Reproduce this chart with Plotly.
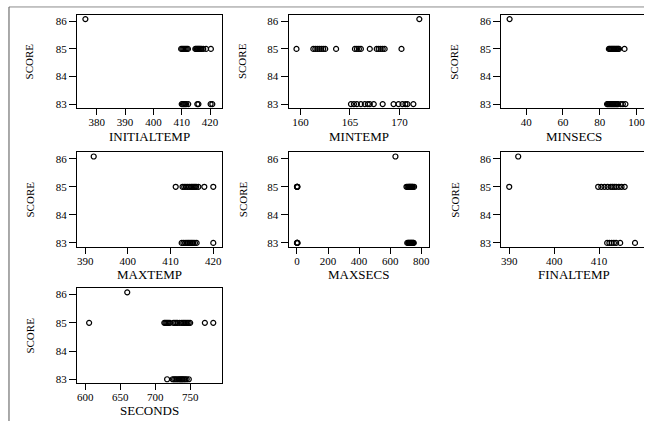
import plotly.graph_objects as go

W, H = 645, 423

# ---- data ----
score_levels = [83, 85, 86.08]

initialtemp_86 = [376]
initialtemp_85 = [409.8, 410.2, 410.6, 411.0, 411.4, 411.8, 412.2, 414.8, 415.1, 415.4, 415.7, 416.0,
                  416.3, 416.6, 417.0, 417.6, 418.6, 420.3]
initialtemp_83 = [410.0, 410.4, 410.8, 411.2, 411.6, 412.3, 415.5, 415.9, 420.2, 420.8]

mintemp_86 = [172.0]
mintemp_85 = [159.6, 161.3, 161.5, 161.7, 161.9, 162.1, 162.3, 162.5, 163.6, 165.5, 165.7, 165.9,
              166.1, 167.0, 167.7, 167.9, 168.1, 168.3, 168.5, 170.2]
mintemp_83 = [165.1, 165.4, 165.7, 166.1, 166.5, 166.8, 167.0, 167.4, 168.3, 169.4, 169.9, 170.3,
              170.6, 170.8, 171.4]

minsecs_86 = [31]
minsecs_85 = [85.0, 85.5, 86.0, 86.5, 87.0, 87.5, 88.0, 88.5, 89.0, 89.5, 90.0, 90.5, 93.5]
minsecs_83 = [84.0, 84.5, 85.0, 85.5, 86.0, 86.5, 87.0, 87.5, 88.0, 88.5, 89.0, 89.5, 90.0, 91.5,
              92.6, 94.0]

maxtemp_86 = [392]
maxtemp_85 = [411.2, 412.8, 413.2, 413.6, 414.0, 414.4, 414.8, 415.1, 415.4, 415.7, 416.0, 416.5,
              417.9, 420.0]
maxtemp_83 = [412.6, 413.0, 413.4, 413.8, 414.1, 414.4, 414.7, 415.0, 415.3, 415.7, 416.1, 420.0]

maxsecs_86 = [634]
maxsecs_85 = [0, 1, 2, 3, 705, 712, 718, 722, 726, 730, 734, 738, 742, 746, 754]
maxsecs_83 = [0, 1, 2, 4, 710, 716, 720, 724, 728, 732, 736, 740, 744, 748, 752]

finaltemp_86 = [392]
finaltemp_85 = [390, 409.8, 410.5, 411.2, 411.9, 412.6, 413.0, 413.4, 413.8, 414.4, 415.0, 415.7]
finaltemp_83 = [411.8, 412.3, 412.8, 413.3, 413.8, 414.7, 418.0]

seconds_86 = [660]
seconds_85 = [605.5, 713, 714.5, 716, 717.5, 719, 721, 726, 728, 730, 732, 735, 738, 740, 742, 744,
              746, 748, 750, 771, 783]
seconds_83 = [717, 725, 727, 729, 731, 733, 735, 736.5, 738, 739.5, 741, 743, 745, 748]

ticks_initialtemp = [380, 390, 400, 410, 420]
ticks_mintemp = [160, 165, 170]
ticks_minsecs = [40, 60, 80, 100]
ticks_maxtemp = [390, 400, 410, 420]
ticks_maxsecs = [0, 200, 400, 600, 800]
ticks_finaltemp = [390, 400, 410]
ticks_seconds = [600, 650, 700, 750]
ticks_score = [83, 84, 85, 86]

# ---- layout geometry (pixels) ----
cols = [(77, 222), (289, 429.5), (502, 645)]
rows = [(15, 108.5), (153, 248), (289.5, 385)]
title_y = [137, 276, 412]
ylab_x = [30, 243, 455]
yrange = [82.86, 86.23]

panels = [
    ("INITIALTEMP", initialtemp_86, initialtemp_85, initialtemp_83, ticks_initialtemp, [373.0, 424.1], 0, 0),
    ("MINTEMP", mintemp_86, mintemp_85, mintemp_83, ticks_mintemp, [158.8, 172.96], 0, 1),
    ("MINSECS", minsecs_86, minsecs_85, minsecs_83, ticks_minsecs, [26.45, 104.1], 0, 2),
    ("MAXTEMP", maxtemp_86, maxtemp_85, maxtemp_83, ticks_maxtemp, [388.06, 421.96], 1, 0),
    ("MAXSECS", maxsecs_86, maxsecs_85, maxsecs_83, ticks_maxsecs, [-54, 849], 1, 1),
    ("FINALTEMP", finaltemp_86, finaltemp_85, finaltemp_83, ticks_finaltemp, [388.22, 420.0], 1, 2),
    ("SECONDS", seconds_86, seconds_85, seconds_83, ticks_seconds, [588, 795], 2, 0),
]

FONT = "Liberation Serif, Times New Roman, serif"

def px(x):
    return x / W

def py(y):
    return 1 - y / H

fig = go.Figure()
annotations = []
layout = dict(
    width=W, height=H,
    margin=dict(l=0, r=0, t=0, b=0),
    paper_bgcolor="white", plot_bgcolor="white",
    showlegend=False,
    font=dict(family=FONT, color="black", size=11),
)

for i, (name, x86, x85, x83, tv, xr, r, c) in enumerate(panels, start=1):
    xs = list(x86) + list(x85) + list(x83)
    ys = [score_levels[2]] * len(x86) + [score_levels[1]] * len(x85) + [score_levels[0]] * len(x83)
    fig.add_trace(go.Scatter(
        x=xs, y=ys, mode="markers",
        xaxis=f"x{i}", yaxis=f"y{i}",
        marker=dict(symbol="circle-open", size=5, color="black", line=dict(width=1.2, color="black")),
        hoverinfo="skip",
    ))
    x0, x1 = cols[c]
    y0, y1 = rows[r]
    sfx = "" if i == 1 else str(i)
    layout[f"xaxis{sfx}"] = dict(
        domain=[px(x0), px(x1)], anchor=f"y{i}", range=xr,
        tickvals=tv, ticks="outside", ticklen=6, tickwidth=1, tickcolor="black",
        ticklabelstandoff=-2, ticklabeloverflow="allow",
        showline=True, linecolor="black", linewidth=1, mirror=True,
        showgrid=False, zeroline=False, fixedrange=True,
        tickfont=dict(family=FONT, size=11, color="black"),
    )
    layout[f"yaxis{sfx}"] = dict(
        domain=[py(y1), py(y0)], anchor=f"x{i}", range=yrange,
        tickvals=ticks_score, ticks="outside", ticklen=7, tickwidth=1, tickcolor="black",
        showline=True, linecolor="black", linewidth=1, mirror=(c != 2),
        showgrid=False, zeroline=False, fixedrange=True,
        tickfont=dict(family=FONT, size=11, color="black"),
    )
    annotations.append(dict(
        text=name, xref="paper", yref="paper",
        x=px((x0 + (x1 if c != 2 else 647)) / 2), y=py(title_y[r]),
        xanchor="center", yanchor="middle", showarrow=False,
        font=dict(family=FONT, size=13, color="black"),
    ))
    annotations.append(dict(
        text="SCORE", xref="paper", yref="paper",
        x=px(ylab_x[c]), y=py((y0 + y1) / 2),
        xanchor="center", yanchor="middle", showarrow=False, textangle=-90,
        font=dict(family=FONT, size=11, color="black"),
    ))

layout["annotations"] = annotations
layout["shapes"] = [
    dict(type="line", xref="paper", yref="paper", x0=px(9), x1=1, y0=py(7), y1=py(7),
         line=dict(color="#8c8c8c", width=1)),
    dict(type="line", xref="paper", yref="paper", x0=px(9), x1=px(9), y0=py(7), y1=0,
         line=dict(color="#555555", width=1)),
]
fig.update_layout(**layout)
fig.write_html(
    "out.html",
    config={"displayModeBar": False},
    post_script="document.body.style.margin='0';document.body.style.overflow='hidden';",
)
